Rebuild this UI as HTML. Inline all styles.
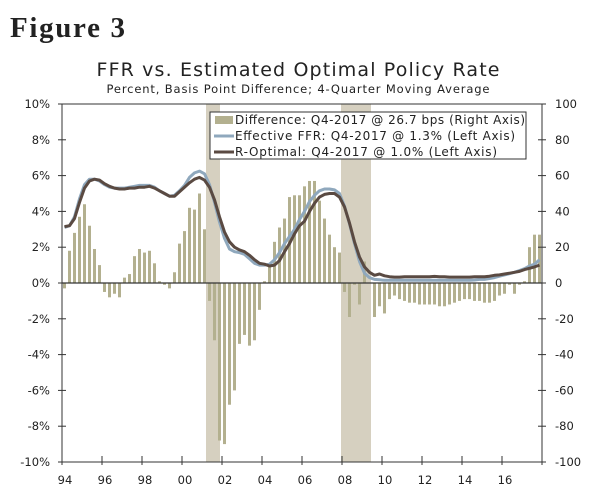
<!DOCTYPE html>
<html><head><meta charset="utf-8"><style>
html,body{margin:0;padding:0;background:#fff}
svg{display:block}
text{font-family:"DejaVu Sans","Liberation Sans",sans-serif;fill:#222}
</style></head><body>
<svg id="chart" width="600" height="496" viewBox="0 0 600 496">
<text x="10" y="37" font-family="Liberation Serif,serif" style="font-family:'Liberation Serif',serif;font-weight:bold" font-size="29" textLength="115">Figure 3</text>
<text x="298" y="76" text-anchor="middle" font-size="19" textLength="403">FFR vs. Estimated Optimal Policy Rate</text>
<text x="298" y="93" text-anchor="middle" font-size="11.5" textLength="383">Percent, Basis Point Difference; 4-Quarter Moving Average</text>
<g id="rec"></g><g id="bars"></g><g id="lines"></g><g id="axes"></g>
<g>
<rect x="210" y="112" width="316" height="47" fill="#fff" stroke="#333" stroke-width="1"/>
<rect x="215" y="116" width="18" height="8" fill="#b3b08f"/>
<text x="235" y="124" font-size="12" textLength="290">Difference: Q4-2017 @ 26.7 bps (Right Axis)</text>
<line x1="214" y1="136" x2="234" y2="136" stroke="#8fa8bd" stroke-width="3"/>
<text x="235" y="140" font-size="12" textLength="280">Effective FFR: Q4-2017 @ 1.3% (Left Axis)</text>
<line x1="214" y1="152" x2="234" y2="152" stroke="#5a4a42" stroke-width="3"/>
<text x="235" y="156" font-size="12" textLength="262">R-Optimal: Q4-2017 @ 1.0% (Left Axis)</text>
</g>
</svg>
<script>
const startYear = 1994;
const diffBps = [-3,18,28,37,44,32,19,10,-5,-8,-6,-8,3,5,15,19,17,18,11,1,-1,-3,6,22,29,42,41,50,30,-10,-32,-88,-90,-68,-60,-34,-29,-35,-32,-15,1,10,23,31,36,48,49,49,54,57,57,46,36,27,20,17,-5,-19,-1,-12,12,0,-19,-13,-17,-9,-7,-9,-10,-11,-11,-12,-12,-12,-12,-13,-13,-12,-11,-10,-9,-9,-10,-10,-11,-11,-10,-7,-6,-1,-6,-1,1,20,27,27];
const ffr = [3.1,3.2,3.7,4.7,5.5,5.8,5.8,5.7,5.5,5.35,5.3,5.3,5.3,5.35,5.4,5.45,5.45,5.45,5.35,5.15,5.0,4.85,4.9,5.15,5.45,5.9,6.15,6.25,6.1,5.5,4.5,3.4,2.5,1.9,1.75,1.7,1.6,1.35,1.1,1.0,1.0,1.05,1.3,1.7,2.2,2.6,3.0,3.55,4.0,4.55,4.9,5.15,5.25,5.25,5.2,5.0,4.3,3.3,2.2,1.2,0.55,0.3,0.2,0.18,0.15,0.15,0.15,0.15,0.15,0.15,0.15,0.15,0.15,0.15,0.15,0.15,0.15,0.15,0.15,0.15,0.15,0.15,0.17,0.2,0.2,0.25,0.3,0.38,0.45,0.52,0.6,0.7,0.8,0.95,1.05,1.3];
const rOpt = [3.15,3.2,3.6,4.5,5.3,5.7,5.8,5.75,5.55,5.4,5.3,5.25,5.25,5.3,5.3,5.35,5.35,5.4,5.3,5.15,5.0,4.85,4.85,5.1,5.35,5.6,5.8,5.9,5.75,5.35,4.65,3.7,2.85,2.3,2.0,1.85,1.75,1.55,1.3,1.1,1.05,0.95,1.0,1.25,1.75,2.2,2.75,3.2,3.45,4.0,4.45,4.8,4.95,5.0,5.0,4.8,4.25,3.35,2.3,1.45,0.9,0.6,0.43,0.5,0.4,0.35,0.33,0.33,0.35,0.35,0.35,0.35,0.35,0.35,0.37,0.35,0.35,0.33,0.33,0.33,0.33,0.33,0.35,0.35,0.35,0.38,0.43,0.45,0.5,0.55,0.6,0.65,0.75,0.82,0.9,1.0];
const recessions = [[2001.2,2001.9],[2007.95,2009.45]];
const leftTicks = [-10,-8,-6,-4,-2,0,2,4,6,8,10];
const rightTicks = [-100,-80,-60,-40,-20,0,20,40,60,80,100];
const xTickLabels = ["94","96","98","00","02","04","06","08","10","12","14","16"];

const L=62,R=542,T=104,B=462;
const xs = yr => L + (yr-startYear)/24*(R-L);
const yL = v => T + (10-v)/20*(B-T);
const yR = v => T + (100-v)/200*(B-T);
const NS='http://www.w3.org/2000/svg';
function mk(tag,attrs,parent){const e=document.createElementNS(NS,tag);for(const k in attrs)e.setAttribute(k,attrs[k]);document.getElementById(parent).appendChild(e);return e;}

recessions.forEach(r=>{
  const e=mk('rect',{x:xs(r[0]),y:T,width:xs(r[1])-xs(r[0]),height:B-T,fill:'#d6d0c0'},'rec');
  
  
});
diffBps.forEach((v,i)=>{
  const cx=xs(startYear+(i+0.5)/4);
  const y0=yR(0), y1=yR(v);
  const e=mk('rect',{x:cx-1.5,y:Math.min(y0,y1),width:3,height:Math.abs(y1-y0),fill:'#b3b08f'},'bars');
  
  
});
function path(arr){return arr.map((v,i)=>(i?'L':'M')+xs(startYear+(i+0.5)/4).toFixed(1)+' '+yL(v).toFixed(1)).join(' ');}
const pf=mk('path',{d:path(ffr),fill:'none',stroke:'#8fa8bd','stroke-width':3,'stroke-linejoin':'round'},'lines');


const po=mk('path',{d:path(rOpt),fill:'none',stroke:'#5a4a42','stroke-width':3,'stroke-linejoin':'round'},'lines');



// axes
mk('rect',{x:L,y:T,width:R-L,height:B-T,fill:'none',stroke:'#333','stroke-width':1},'axes');
mk('line',{x1:L,y1:yL(0),x2:R,y2:yL(0),stroke:'#333','stroke-width':1.2},'axes');
leftTicks.forEach(v=>{
  const y=yL(v);
  mk('line',{x1:L-4,y1:y,x2:L+4,y2:y,stroke:'#333'},'axes');
  const t=mk('text',{x:50,y:y+4,'text-anchor':'end','font-size':11.5},'axes');
  t.textContent=v+'%';
  
  
});
rightTicks.forEach(v=>{
  const y=yR(v);
  mk('line',{x1:R-4,y1:y,x2:R+4,y2:y,stroke:'#333'},'axes');
  const t=mk('text',{x:555,y:y+4,'text-anchor':'start','font-size':11.5},'axes');
  t.textContent=v;
  
  
});
xTickLabels.forEach((s,i)=>{
  const x=xs(startYear+2*i);
  mk('line',{x1:x,y1:B-6,x2:x,y2:B+3,stroke:'#333'},'axes');
  const t=mk('text',{x:x+3,y:484,'text-anchor':'middle','font-size':11.5},'axes');
  t.textContent=s;
  
  
});
mk('line',{x1:R,y1:B-6,x2:R,y2:B+3,stroke:'#333'},'axes');
</script>
</body></html>
